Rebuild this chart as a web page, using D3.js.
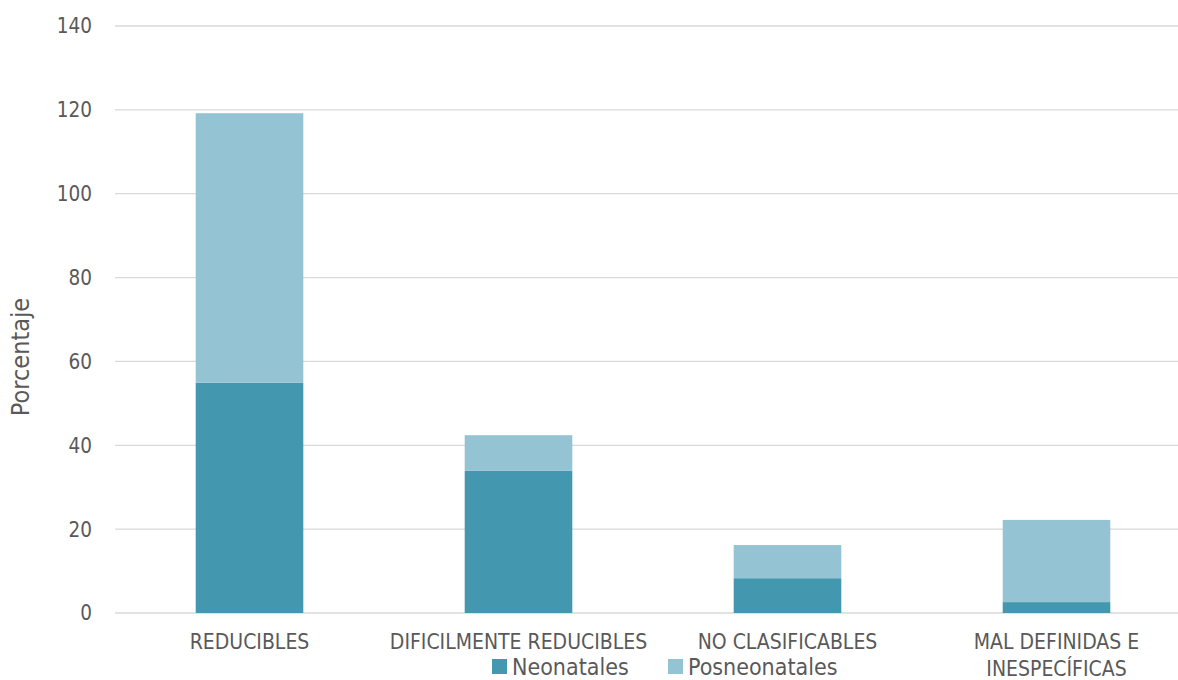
<!DOCTYPE html>
<html><head><meta charset="utf-8">
<script src="https://cdn.jsdelivr.net/npm/d3@7"></script>
<style>
body{margin:0;background:#fff;}
text{font-family:"DejaVu Sans Condensed","DejaVu Sans",sans-serif;fill:#595959;}
</style></head>
<body><svg id="c" width="1178" height="680"></svg>
<script>
const categories = [["REDUCIBLES"],["DIFICILMENTE REDUCIBLES"],["NO CLASIFICABLES"],["MAL DEFINIDAS E","INESPECÍFICAS"]];
const neonatales = [54.9, 33.9, 8.3, 2.6];
const posneonatales = [64.3, 8.5, 7.9, 19.6];
const yTicks = [0,20,40,60,80,100,120,140];
const seriesNames = ["Neonatales","Posneonatales"];
const colors = ["#4398B0","#94C3D4"];

const svg = d3.select("#c");
const x = d3.scaleBand().domain(d3.range(categories.length)).range([115,1191]).paddingInner(0.6).paddingOuter(0.3);
const y = d3.scaleLinear().domain([0,140]).range([613,26]);

svg.append("g").selectAll("line").data(yTicks).join("line")
  .attr("x1",115).attr("x2",1178).attr("y1",d=>y(d)).attr("y2",d=>y(d))
  .attr("stroke","#d9d9d9").attr("stroke-width",1.3);

svg.append("g").selectAll("text").data(yTicks).join("text")
  .attr("x",92).attr("y",d=>y(d)).attr("dy","0.36em").attr("text-anchor","end")
  .style("font-size","20.5px").text(d=>d);

svg.append("text").attr("transform","translate(29,357) rotate(-90)").attr("text-anchor","middle")
  .style("font-size","25px").text("Porcentaje");

const data = categories.map((c,i)=>({i, n:neonatales[i], p:posneonatales[i]}));
const g = svg.append("g");
g.selectAll("rect.n").data(data).join("rect").attr("class","n")
  .attr("x",d=>x(d.i)).attr("width",x.bandwidth())
  .attr("y",d=>y(d.n)).attr("height",d=>y(0)-y(d.n)).attr("fill",colors[0]);
g.selectAll("rect.p").data(data).join("rect").attr("class","p")
  .attr("x",d=>x(d.i)).attr("width",x.bandwidth())
  .attr("y",d=>y(d.n+d.p)).attr("height",d=>y(d.n)-y(d.n+d.p)).attr("fill",colors[1]);

const lab = svg.append("g").selectAll("text").data(categories).join("text")
  .attr("x",(d,i)=>x(i)+x.bandwidth()/2).attr("y",649).attr("text-anchor","middle")
  .style("font-size","21px");
lab.selectAll("tspan").data(d=>d).join("tspan")
  .attr("x",function(){return this.parentNode.getAttribute("x");})
  .attr("dy",(d,j)=>j===0?0:"1.3em").text(d=>d);

const legX = [492, 668];
const leg = svg.append("g").selectAll("g").data(seriesNames).join("g")
  .attr("transform",(d,i)=>`translate(${legX[i]},659)`);
leg.append("rect").attr("width",15).attr("height",15).attr("fill",(d,i)=>colors[i]);
leg.append("text").attr("x",20).attr("y",15.5).style("font-size","23px").text(d=>d);
</script></body></html>
